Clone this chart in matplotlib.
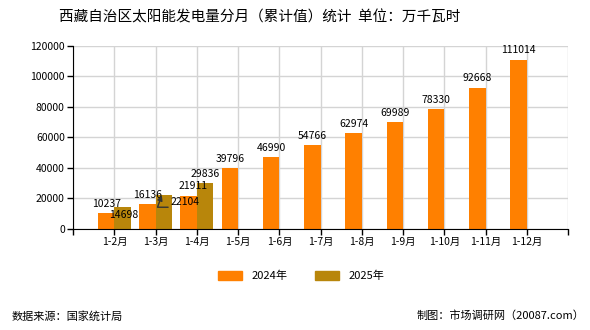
import numpy as np
import matplotlib.pyplot as plt
from matplotlib.patches import Patch

plt.rcParams['font.family'] = ['Noto Sans CJK SC', 'DejaVu Sans']

months = ['1-2月', '1-3月', '1-4月', '1-5月', '1-6月', '1-7月',
          '1-8月', '1-9月', '1-10月', '1-11月', '1-12月']
vals_2024 = [10237, 16136, 21911, 39796, 46990, 54766,
             62974, 69989, 78330, 92668, 111014]
vals_2025 = [14698, 22104, 29836]

c2024 = '#ff8000'
c2025 = '#b8860b'

fig = plt.figure(figsize=(5.9, 3.3), dpi=100)
ax = fig.add_axes([0.124, 0.306, 0.839, 0.555])

x = np.arange(len(months))
w = 0.4
ax.bar(x - w / 2, vals_2024, w, color=c2024, zorder=2)
ax.bar(x[:len(vals_2025)] + w / 2, vals_2025, w, color=c2025, zorder=2)

# value labels, nudged where they would collide
for xi, v in zip(x, vals_2024):
    dx = 3 if xi == 2 else 0
    ax.annotate(str(v), (xi - w / 2, v), xytext=(dx, 3), textcoords='offset points',
                ha='center', va='bottom', fontsize=7.5, zorder=4)

ax.annotate(str(vals_2025[0]), (0 + w / 2, vals_2025[0]), xytext=(1, -6),
            textcoords='offset points', ha='center', va='center', fontsize=7.5, zorder=4)
ax.annotate(str(vals_2025[1]), (1 + w / 2 - 0.05, vals_2025[1]), xytext=(17, -5),
            textcoords='offset points', ha='center', va='center', fontsize=7.5, zorder=4,
            arrowprops=dict(arrowstyle='-|>', color='#333333', lw=1.0,
                            relpos=(1, 0), shrinkA=0, shrinkB=0,
                            connectionstyle='angle,angleA=0,angleB=70,rad=0'))
ax.annotate(str(vals_2025[2]), (2 + w / 2, vals_2025[2]), xytext=(0, 3),
            textcoords='offset points', ha='center', va='bottom', fontsize=7.5, zorder=4)

ax.set_xlim(-1, len(months))
ax.set_ylim(0, 120000)
ax.set_yticks(np.arange(0, 120001, 20000))
ax.set_xticks(np.arange(-1, len(months) + 1))
ax.set_xticklabels([''] + months + [''])
ax.tick_params(axis='both', labelsize=7.5, length=4, width=1, color='black', pad=2)
ax.grid(True, color='#d4d4d4', lw=1, zorder=0)
ax.spines['top'].set_visible(False)
ax.spines['right'].set_visible(False)
for s in ('left', 'bottom'):
    ax.spines[s].set_color('black')
    ax.spines[s].set_zorder(3)

fig.text(0.44, 0.948, '西藏自治区太阳能发电量分月（累计值）统计  单位：万千瓦时',
         ha='center', va='center', fontsize=10.5)

handles = [Patch(color=c2024), Patch(color=c2025)]
fig.legend(handles, ['2024年', '2025年'], loc='center', ncol=2, frameon=False,
           bbox_to_anchor=(0.51, 1 - 276 / 330), fontsize=8,
           handlelength=2.2, handleheight=0.8, columnspacing=2.5)

fig.text(0.02, 1 - 316 / 330, '数据来源：国家统计局', ha='left', va='center', fontsize=8)
fig.text(0.99, 1 - 316 / 330, '制图：市场调研网（20087.com）', ha='right', va='center', fontsize=8)

fig.savefig('out.png', dpi=100)
